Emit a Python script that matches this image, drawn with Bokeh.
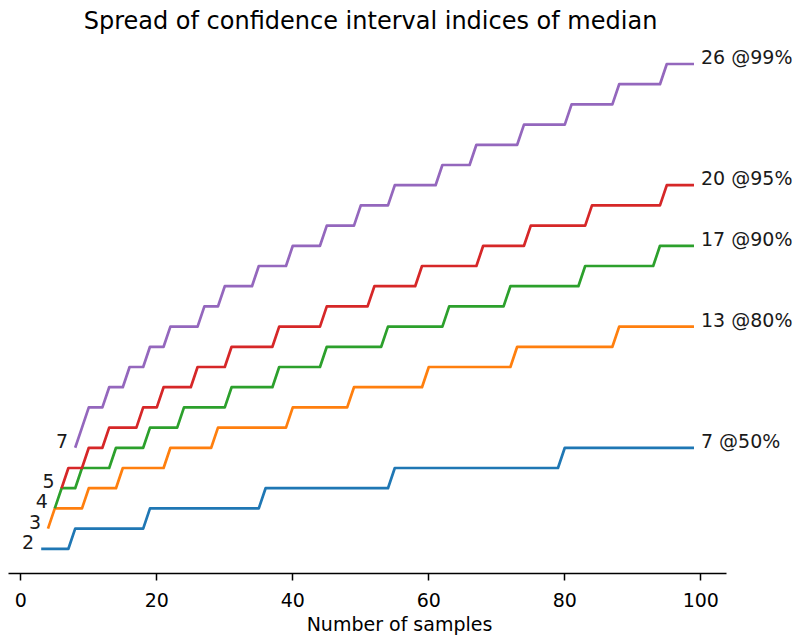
from bokeh.plotting import figure
from bokeh.models import Range1d, FixedTicker, Label, ColumnDataSource
from bokeh.core.properties import value
from bokeh.embed import file_html
from bokeh.resources import INLINE

# ---- data ----
conf_levels = [50, 80, 90, 95, 99]
colors = ["#1f77b4", "#ff7f0e", "#2ca02c", "#d62728", "#9467bd"]
start_n = [3, 4, 5, 6, 8]
end_n = 99

spread_50 = [2, 2, 2, 2, 2, 3, 3,
             3, 3, 3, 3, 3, 3, 3, 3, 3, 4,
             4, 4, 4, 4, 4, 4, 4, 4, 4, 4,
             4, 4, 4, 4, 4, 4, 5, 5, 5, 5,
             5, 5, 5, 5, 5, 5, 5, 5, 5, 5,
             5, 5, 5, 5, 5, 6, 6, 6, 6, 6,
             6, 6, 6, 6, 6, 6, 6, 6, 6, 6,
             6, 6, 6, 6, 6, 6, 6, 6, 6, 6,
             7, 7, 7, 7, 7, 7, 7, 7, 7, 7,
             7, 7, 7, 7, 7, 7, 7, 7, 7, 7]

spread_80 = [3, 4, 4, 4, 4, 4,
             5, 5, 5, 5, 5, 6, 6, 6, 6, 6,
             6, 6, 7, 7, 7, 7, 7, 7, 7, 8,
             8, 8, 8, 8, 8, 8, 8, 8, 8, 8,
             9, 9, 9, 9, 9, 9, 9, 9, 9, 10,
             10, 10, 10, 10, 10, 10, 10, 10, 10, 10,
             11, 11, 11, 11, 11, 11, 11, 11, 11, 11,
             11, 11, 11, 12, 12, 12, 12, 12, 12, 12,
             12, 12, 12, 12, 12, 12, 12, 12, 13, 13,
             13, 13, 13, 13, 13, 13, 13, 13, 13, 13]

spread_90 = [4, 5, 5, 5, 6,
             6, 6, 6, 6, 7, 7, 7, 7, 7, 8,
             8, 8, 8, 8, 9, 9, 9, 9, 9, 9,
             9, 10, 10, 10, 10, 10, 10, 10, 11, 11,
             11, 11, 11, 11, 11, 12, 12, 12, 12, 12,
             12, 12, 12, 12, 13, 13, 13, 13, 13, 13,
             13, 13, 13, 14, 14, 14, 14, 14, 14, 14,
             14, 14, 15, 15, 15, 15, 15, 15, 15, 15,
             15, 15, 15, 16, 16, 16, 16, 16, 16, 16,
             16, 16, 16, 16, 17, 17, 17, 17, 17, 17]

spread_95 = [5, 6, 6, 6,
             7, 7, 7, 8, 8, 8, 8, 8, 9, 9,
             9, 10, 10, 10, 10, 10, 11, 11, 11, 11,
             11, 12, 12, 12, 12, 12, 12, 12, 13, 13,
             13, 13, 13, 13, 13, 14, 14, 14, 14, 14,
             14, 14, 15, 15, 15, 15, 15, 15, 15, 16,
             16, 16, 16, 16, 16, 16, 16, 16, 17, 17,
             17, 17, 17, 17, 17, 18, 18, 18, 18, 18,
             18, 18, 18, 18, 19, 19, 19, 19, 19, 19,
             19, 19, 19, 19, 19, 20, 20, 20, 20, 20]

spread_99 = [7, 8,
             9, 9, 9, 10, 10, 10, 11, 11, 11, 12,
             12, 12, 13, 13, 13, 13, 13, 14, 14, 14,
             15, 15, 15, 15, 15, 16, 16, 16, 16, 16,
             17, 17, 17, 17, 17, 18, 18, 18, 18, 18,
             19, 19, 19, 19, 19, 20, 20, 20, 20, 20,
             20, 20, 21, 21, 21, 21, 21, 22, 22, 22,
             22, 22, 22, 22, 23, 23, 23, 23, 23, 23,
             23, 24, 24, 24, 24, 24, 24, 24, 25, 25,
             25, 25, 25, 25, 25, 26, 26, 26, 26, 26]

series = [spread_50, spread_80, spread_90, spread_95, spread_99]

x_ticks = [0, 20, 40, 60, 80, 100]
title_text = "Spread of confidence interval indices of median"
x_label = "Number of samples"

FONT = "DejaVu Sans"
FS = "19px"

p = figure(width=798, height=637, output_backend="svg", toolbar_location=None,
           title=None, y_axis_location=None,
           x_range=Range1d(-2.985, 114.37), y_range=Range1d(0.777, 29.144),
           min_border_left=0, min_border_right=0, min_border_top=0,
           min_border_bottom=64)
p.outline_line_color = None
p.xgrid.visible = False
p.ygrid.visible = False
p.background_fill_color = "white"
p.border_fill_color = "white"

for vals, col, n0 in zip(series, colors, start_n):
    ns = list(range(n0, end_n + 1))
    p.line(x=ns, y=vals, line_color=col, line_width=2.7, line_join="round")

# start labels (left)
left_src = ColumnDataSource(dict(x=start_n, y=[s[0] for s in series],
                                 t=[str(s[0]) for s in series]))
p.text(x="x", y="y", text="t", source=left_src, x_offset=-7, y_offset=-7,
       text_align="right", text_baseline="middle",
       text_font=value(FONT), text_font_size=value(FS), text_color="#1a1a1a")

# end labels (right)
right_src = ColumnDataSource(dict(x=[end_n] * len(series), y=[s[-1] for s in series],
                                  t=[f"{s[-1]} @{c}%" for s, c in zip(series, conf_levels)]))
p.text(x="x", y="y", text="t", source=right_src, x_offset=7, y_offset=-7,
       text_align="left", text_baseline="middle",
       text_font=value(FONT), text_font_size=value(FS), text_color="#1a1a1a")

p.add_layout(Label(x=51.43, y=28.15, text=title_text, text_align="center",
                   text_baseline="middle", text_font=FONT,
                   text_font_size="24px", text_color="black"))

ax = p.xaxis[0]
ax.ticker = FixedTicker(ticks=x_ticks)
ax.bounds = (-1.81, 103.8)
ax.axis_label = x_label
ax.axis_label_text_font = FONT
ax.axis_label_text_font_size = FS
ax.axis_label_text_font_style = "normal"
ax.axis_label_text_color = "black"
ax.axis_label_standoff = 3
ax.major_label_text_font = FONT
ax.major_label_text_font_size = FS
ax.major_label_text_color = "black"
ax.major_label_standoff = 12
ax.major_tick_in = 0
ax.major_tick_out = 7
ax.major_tick_line_width = 1.5
ax.major_tick_line_color = "black"
ax.minor_tick_line_color = None
ax.axis_line_width = 1.5
ax.axis_line_color = "black"

open("out.html", "w").write(file_html(p, INLINE))
